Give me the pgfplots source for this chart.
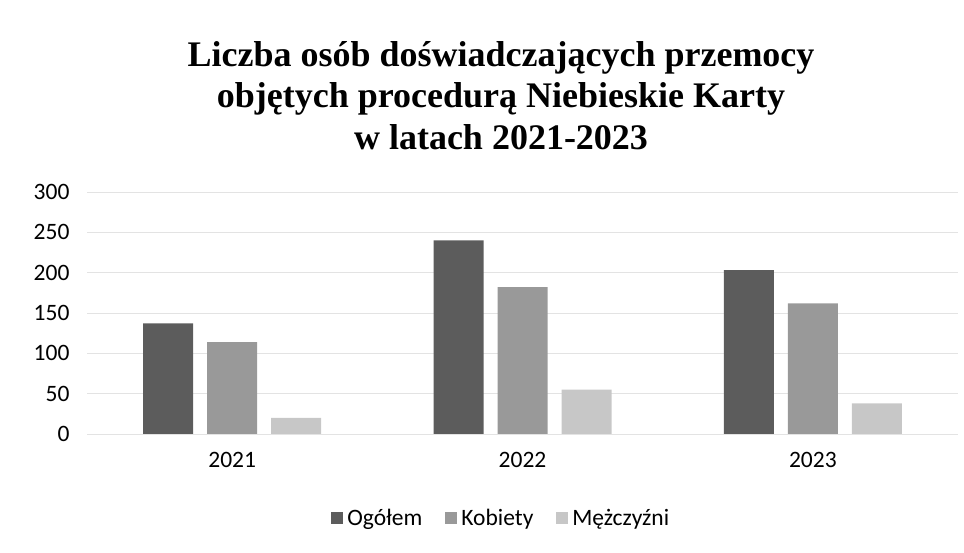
\documentclass[border=0pt]{standalone}
\usepackage{fontspec}
\setmainfont{Carlito}
\newfontfamily\titlefont{Liberation Serif}
\usepackage{pgfplots}
\pgfplotsset{compat=1.18}

\definecolor{cA}{gray}{0.36}
\definecolor{cB}{gray}{0.60}
\definecolor{cC}{gray}{0.78}

\begin{document}
\begin{tikzpicture}
\useasboundingbox (0,0) rectangle (964bp,553bp);
\node[anchor=base, font=\titlefont\bfseries\fontsize{36bp}{42bp}\selectfont] at (501bp,486bp) {Liczba osób doświadczających przemocy};
\node[anchor=base, font=\titlefont\bfseries\fontsize{36bp}{42bp}\selectfont] at (501bp,445bp) {objętych procedurą Niebieskie Karty};
\node[anchor=base, font=\titlefont\bfseries\fontsize{36bp}{42bp}\selectfont] at (501bp,403bp) {w latach 2021-2023};
\begin{axis}[
  at={(87bp,119bp)}, anchor=south west,
  scale only axis, width=871bp, height=242bp,
  xmin=-0.5, xmax=2.5, ymin=0, ymax=300,
  ytick={0,50,...,300},
  xtick={0,1,2}, xticklabels={2021,2022,2023},
  ybar=14bp, bar width=50bp,
  ymajorgrids, grid style={gray!22, line width=0.8bp},
  axis line style={draw=none},
  major tick length=0,
  tick label style={font=\fontsize{23.5bp}{28bp}\selectfont},
  /pgf/number format/assume math mode=true,
  yticklabel style={xshift=-14bp},
  xticklabel style={yshift=-15bp},
  legend columns=3,
  legend style={draw=none, at={(0.475,-0.347)}, anchor=center,
    font=\fontsize{23.5bp}{28bp}\selectfont,
    nodes={inner sep=1bp},
    /tikz/every even column/.append style={column sep=22bp}},
  legend image code/.code={\fill[#1,draw=none] (0bp,-6bp) rectangle (12bp,6bp); \path (15bp,0bp);},
]
\addplot[fill=cA, draw=none] coordinates {(0,137) (1,240) (2,203)};
\addplot[fill=cB, draw=none] coordinates {(0,114) (1,182) (2,162)};
\addplot[fill=cC, draw=none] coordinates {(0,20) (1,55) (2,38)};
\legend{Ogółem, Kobiety, Mężczyźni}
\end{axis}
\end{tikzpicture}
\end{document}
